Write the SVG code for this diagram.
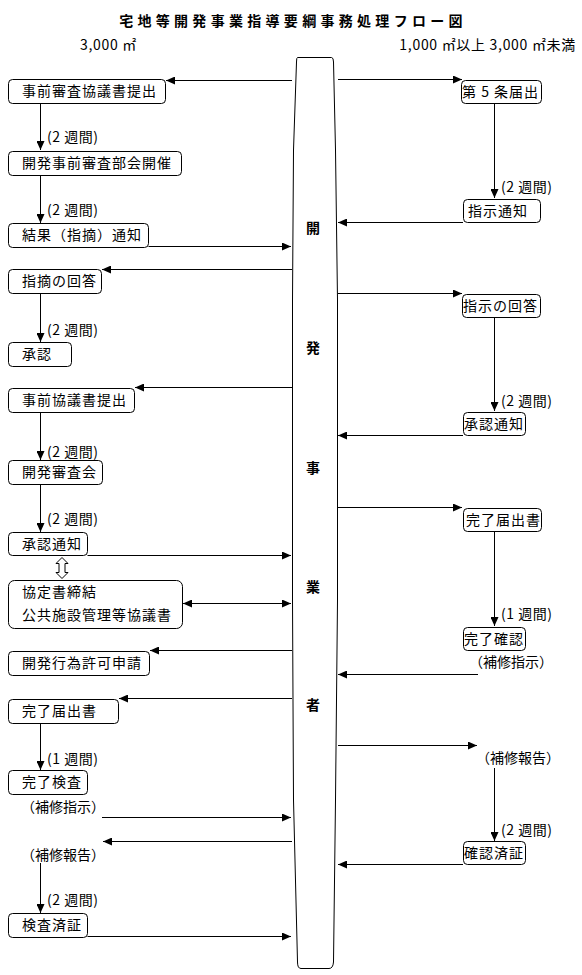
<svg xmlns="http://www.w3.org/2000/svg" width="582" height="975" viewBox="0 0 582 975">
<style>
text{font-family:"Noto Sans CJK JP","Liberation Sans",sans-serif;fill:#000}
.t{font-size:14px;letter-spacing:1px}
.l{font-size:14px;letter-spacing:0.5px}
.h{font-size:14px;letter-spacing:0.7px}
.ti{font-size:14px;font-weight:bold;letter-spacing:4.3px}
.v{font-size:14px;font-weight:bold;text-anchor:middle}
rect{fill:#fff;stroke:#000;stroke-width:1}
line,path.c{stroke:#000;stroke-width:1;fill:none}
.a{marker-end:url(#ah)}
.d{marker-start:url(#ah);marker-end:url(#ah)}
</style>
<defs>
<marker id="ah" markerUnits="userSpaceOnUse" markerWidth="9" markerHeight="8" refX="9" refY="4" orient="auto-start-reverse">
<path d="M0,0 L9,4 L0,8 z" fill="#000"/>
</marker>
</defs>
<rect x="0" y="0" width="582" height="975" style="stroke:none"/>
<text class="ti" x="293" y="26" text-anchor="middle">宅地等開発事業指導要綱事務処理フロー図</text>
<text class="h" x="80" y="50">3,000 ㎡</text>
<text class="h" x="576" y="50" text-anchor="end">1,000 ㎡以上 3,000 ㎡未満</text>

<g id="pillar">
<path class="c" d="M297.5 57.5 L331.5 57.5 Q333.5 57.5 333.5 62 L335.5 150 L337.5 300 L337.5 600 L335.5 800 L333.5 962 Q333 968.5 329 968.5 L301 968.5 Q297.5 968.5 297.5 962 L293.5 800 L292.5 600 L292.5 300 L293.5 150 L296.5 62 Q296.5 57.5 297.5 57.5 Z"/>
<text class="v" x="313" y="233">開</text>
<text class="v" x="313" y="353">発</text>
<text class="v" x="313" y="473">事</text>
<text class="v" x="313" y="592">業</text>
<text class="v" x="313" y="710">者</text>
</g>

<g id="connectors">
<line class="a" x1="292" y1="80.5" x2="166" y2="80.5"/>
<line class="a" x1="338" y1="79.5" x2="462" y2="79.5"/>
<line class="a" x1="40.5" y1="103.5" x2="40.5" y2="150"/>
<line class="a" x1="40.5" y1="175.5" x2="40.5" y2="223"/>
<line class="a" x1="148.5" y1="246.5" x2="291" y2="246.5"/>
<line class="a" x1="494.5" y1="103.5" x2="494.5" y2="198"/>
<line class="a" x1="463" y1="222.5" x2="338" y2="222.5"/>
<line class="a" x1="292" y1="269.5" x2="102" y2="269.5"/>
<line class="a" x1="40.5" y1="293.5" x2="40.5" y2="342"/>
<line class="a" x1="338" y1="293.5" x2="462" y2="293.5"/>
<line class="a" x1="494.5" y1="317.5" x2="494.5" y2="411"/>
<line class="a" x1="463" y1="435.5" x2="338" y2="435.5"/>
<line class="a" x1="292" y1="387.5" x2="135" y2="387.5"/>
<line class="a" x1="40.5" y1="412.5" x2="40.5" y2="460"/>
<line class="a" x1="40.5" y1="484.5" x2="40.5" y2="532"/>
<line class="a" x1="87.5" y1="555.5" x2="291" y2="555.5"/>
<path d="M62 557.5 L56 563.5 L59 563.5 L59 572.5 L56 572.5 L62 578.5 L68 572.5 L65 572.5 L65 563.5 L68 563.5 Z" fill="#fff" stroke="#000" stroke-width="1"/>
<line class="d" x1="183" y1="603.5" x2="291" y2="603.5"/>
<line class="a" x1="292" y1="650.5" x2="150" y2="650.5"/>
<line class="a" x1="292" y1="698.5" x2="119" y2="698.5"/>
<line class="a" x1="40.5" y1="723.5" x2="40.5" y2="770"/>
<line class="a" x1="102" y1="817.5" x2="291" y2="817.5"/>
<line class="a" x1="292" y1="841.5" x2="103" y2="841.5"/>
<line class="a" x1="40.5" y1="863" x2="40.5" y2="913"/>
<line class="a" x1="87.5" y1="936.5" x2="291" y2="936.5"/>
<line class="a" x1="338" y1="507.5" x2="462" y2="507.5"/>
<line class="a" x1="494.5" y1="531.5" x2="494.5" y2="626"/>
<line class="a" x1="478" y1="674.5" x2="338" y2="674.5"/>
<line class="a" x1="338" y1="745.5" x2="477" y2="745.5"/>
<line class="a" x1="494.5" y1="768" x2="494.5" y2="841"/>
<line class="a" x1="463" y1="864.5" x2="338" y2="864.5"/>
</g>

<g id="labels">
<text class="l" x="47" y="142">(2 週間)</text>
<text class="l" x="47" y="215">(2 週間)</text>
<text class="l" x="47" y="335">(2 週間)</text>
<text class="l" x="47" y="457">(2 週間)</text>
<text class="l" x="47" y="524">(2 週間)</text>
<text class="l" x="47" y="764">(1 週間)</text>
<text class="l" x="47" y="905">(2 週間)</text>
<text class="l" x="501" y="192">(2 週間)</text>
<text class="l" x="501" y="406">(2 週間)</text>
<text class="l" x="501" y="619">(1 週間)</text>
<text class="l" x="501" y="835">(2 週間)</text>
<text class="t" x="21" y="812" style="letter-spacing:0">（補修指示）</text>
<text class="t" x="21" y="860" style="letter-spacing:0">（補修報告）</text>
<text class="t" x="469" y="667" style="letter-spacing:0">（補修指示）</text>
<text class="t" x="476" y="763" style="letter-spacing:0">（補修報告）</text>
</g>

<g id="n1"><rect x="8.5" y="79.5" width="157" height="24" rx="4"/><text class="t" x="22" y="96">事前審査協議書提出</text></g>
<g id="n2"><rect x="8.5" y="151.5" width="173" height="24" rx="4"/><text class="t" x="22" y="168">開発事前審査部会開催</text></g>
<g id="n3"><rect x="8.5" y="223.5" width="140" height="24" rx="4"/><text class="t" x="22" y="240">結果（指摘）通知</text></g>
<g id="n4"><rect x="8.5" y="269.5" width="93" height="24" rx="4"/><text class="t" x="22" y="286">指摘の回答</text></g>
<g id="n5"><rect x="8.5" y="342.5" width="63" height="24" rx="4"/><text class="t" x="22" y="359">承認</text></g>
<g id="n6"><rect x="8.5" y="388.5" width="126" height="24" rx="4"/><text class="t" x="22" y="405">事前協議書提出</text></g>
<g id="n7"><rect x="8.5" y="460.5" width="94" height="24" rx="4"/><text class="t" x="22" y="477">開発審査会</text></g>
<g id="n8"><rect x="8.5" y="532.5" width="79" height="23" rx="4"/><text class="t" x="22" y="549">承認通知</text></g>
<g id="n9"><rect x="8.5" y="580.5" width="174" height="48" rx="6"/><text class="t" x="22" y="597">協定書締結</text><text class="t" x="22" y="620">公共施設管理等協議書</text></g>
<g id="n10"><rect x="8.5" y="651.5" width="141" height="24" rx="4"/><text class="t" x="22" y="668">開発行為許可申請</text></g>
<g id="n11"><rect x="8.5" y="699.5" width="110" height="24" rx="4"/><text class="t" x="22" y="716">完了届出書</text></g>
<g id="n12"><rect x="8.5" y="770.5" width="79" height="24" rx="4"/><text class="t" x="22" y="787">完了検査</text></g>
<g id="n13"><rect x="8.5" y="913.5" width="79" height="24" rx="4"/><text class="t" x="22" y="930">検査済証</text></g>

<g id="r1"><rect x="461.5" y="80.5" width="80" height="23" rx="4"/><text class="t" x="462" y="97">第 5 条届出</text></g>
<g id="r2"><rect x="463.5" y="199.5" width="77" height="23" rx="4"/><text class="t" x="468" y="216">指示通知</text></g>
<g id="r3"><rect x="462.5" y="294.5" width="78" height="23" rx="4"/><text class="t" x="463" y="311">指示の回答</text></g>
<g id="r4"><rect x="463.5" y="412.5" width="62" height="23" rx="4"/><text class="t" x="464" y="429">承認通知</text></g>
<g id="r5"><rect x="463.5" y="508.5" width="78" height="23" rx="4"/><text class="t" x="466" y="525">完了届出書</text></g>
<g id="r6"><rect x="463.5" y="627.5" width="62" height="23" rx="4"/><text class="t" x="464" y="644">完了確認</text></g>
<g id="r7"><rect x="463.5" y="841.5" width="62" height="23" rx="4"/><text class="t" x="464" y="858">確認済証</text></g>
</svg>
